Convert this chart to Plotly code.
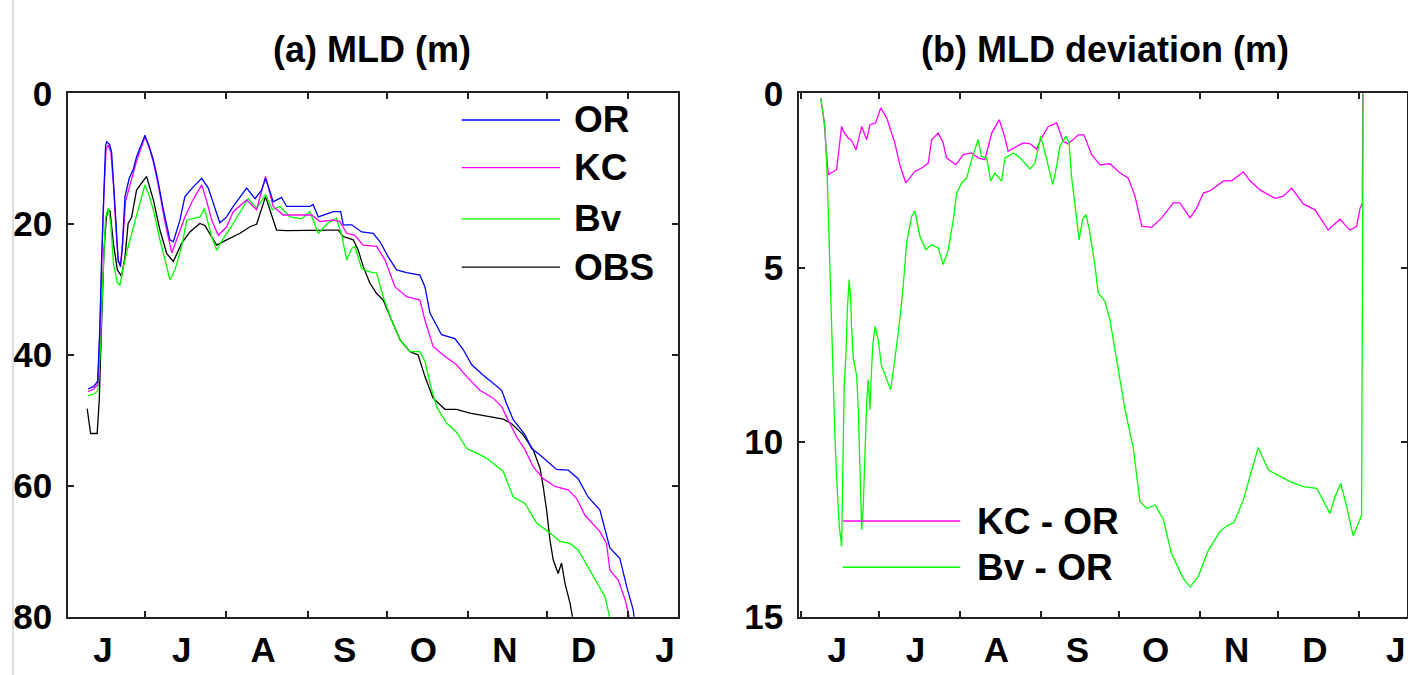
import pandas as pd
import plotly.graph_objects as go

BASE = pd.Timestamp("2006-06-01")

# ---------------- Panel (a): MLD (m); x = days since 1 June ----------------
or_day = [8.3, 10.5, 12.0, 12.8, 13.5, 14.3, 15.0, 15.4, 16.5, 17.3, 18.2, 19.0, 19.8, 20.7, 21.3, 22.4,
          24.0, 25.5, 26.8, 28.5, 30.0, 31.5, 33.2, 35.1, 37.0, 39.5, 40.8, 43.3, 45.2, 48.4, 51.6, 54.1,
          56.0, 58.5, 61.1, 63.6, 68.7, 71.9, 74.4, 75.9, 77.6, 78.8, 82.0, 83.9, 92.8, 94.0, 96.0, 101.7,
          104.5, 105.5, 108.7, 112.5, 116.9, 119.5, 122.6, 125.8, 129.6, 134.7, 136.6, 138.5, 142.9, 148.0,
          151.2, 154.4, 158.8, 162.6, 165.8, 167.7, 170.2, 174.7, 177.2, 180.4, 186.7, 191.1, 194.9, 198.7,
          203.2, 207.0, 210.8, 213.4, 215.9, 216.4]
or_mld = [45.2, 44.8, 44.0, 36.0, 25.0, 14.0, 8.0, 7.4, 7.8, 9.0, 14.0, 20.0, 25.5, 26.5, 24.0, 15.8,
          13.0, 11.7, 9.7, 8.0, 6.4, 8.0, 10.2, 13.7, 17.8, 22.4, 22.7, 19.4, 15.8, 14.3, 13.0, 14.5,
          16.8, 19.8, 18.9, 17.3, 14.5, 16.1, 14.8, 13.0, 15.0, 16.6, 15.9, 17.3, 17.3, 17.0, 18.9, 18.1,
          18.1, 20.1, 20.1, 21.2, 21.4, 22.7, 25.0, 27.0, 27.4, 27.8, 29.6, 33.6, 36.9, 37.5,
          39.2, 41.5, 43.1, 44.3, 45.4, 47.5, 49.9, 52.2, 54.3, 55.3, 57.5, 57.6, 58.9, 61.7,
          63.7, 69.5, 71.1, 75.4, 79.0, 81.0]

kc_day = [8.3, 10.5, 12.0, 12.8, 13.5, 14.3, 15.2, 16.0, 17.0, 18.0, 19.0, 19.8, 20.7, 21.5, 22.6, 24.5,
          26.0, 27.5, 30.0, 31.8, 33.5, 35.5, 37.5, 40.2, 42.0, 45.2, 48.0, 51.6, 53.5, 55.5, 57.9, 61.1,
          63.6, 68.7, 72.5, 75.9, 78.8, 82.6, 93.5, 96.6, 101.7, 104.2, 106.8, 109.9, 113.1, 118.2, 121.4,
          125.2, 129.6, 134.7, 136.6, 139.7, 143.5, 148.6, 152.5, 157.5, 162.6, 165.8, 168.3, 171.5, 174.7,
          177.8, 181.6, 186.1, 191.1, 194.3, 197.5, 203.2, 205.7, 207.0, 210.2, 212.8, 214.9]
kc_mld = [45.6, 45.2, 44.5, 37.0, 27.0, 16.0, 8.5, 7.9, 9.0, 14.0, 21.0, 25.8, 26.0, 23.0, 16.5, 13.5,
          11.5, 9.5, 6.7, 8.5, 11.0, 15.0, 19.5, 24.4, 22.5, 18.9, 16.5, 14.0, 16.5, 19.5, 21.7, 20.4,
          18.1, 16.3, 17.8, 12.7, 17.3, 18.6, 18.6, 19.6, 19.4, 19.6, 21.4, 21.7, 23.2, 23.4, 25.5,
          29.6, 31.1, 31.6, 34.7, 38.7, 40.0, 41.5, 43.3, 45.4, 46.6, 47.9, 50.0, 52.5, 54.5,
          57.1, 58.9, 60.1, 60.6, 61.9, 64.5, 67.0, 68.8, 72.9, 74.4, 77.4, 81.0]

bv_day = [8.3, 10.5, 12.0, 12.9, 14.0, 15.0, 16.0, 17.0, 18.0, 19.5, 20.5, 21.5, 23.6, 26.8, 30.0, 31.5,
          33.2, 35.7, 39.5, 41.4, 44.0, 45.9, 50.9, 52.6, 55.4, 57.3, 59.8, 63.6, 69.3, 72.5, 75.9, 78.5,
          81.4, 85.2, 89.6, 92.8, 96.0, 99.8, 102.9, 104.9, 106.8, 108.7, 109.9, 112.5, 115.6, 118.2,
          120.7, 123.9, 127.1, 130.9, 134.7, 136.6, 138.5, 141.0, 144.8, 148.6, 152.5, 156.3, 160.1,
          162.6, 166.4, 170.2, 174.7, 179.1, 183.5, 188.0, 191.8, 194.9, 199.4, 203.2, 205.1, 206.7, 207.2]
bv_mld = [46.2, 46.0, 45.5, 40.0, 28.0, 19.0, 17.6, 20.0, 26.0, 29.0, 29.3, 27.0, 23.4, 18.9, 14.0, 15.5,
          17.8, 22.4, 28.5, 27.0, 23.4, 19.4, 18.9, 17.6, 21.9, 24.0, 22.2, 19.9, 16.1, 17.6, 15.5, 17.8,
          17.3, 18.9, 19.2, 18.1, 21.4, 19.8, 19.1, 21.7, 25.5, 23.7, 23.4, 26.8, 27.3, 27.5,
          31.1, 34.7, 37.7, 39.5, 39.5, 41.0, 44.3, 47.9, 50.4, 51.8, 54.3, 55.0, 55.8,
          56.6, 57.8, 61.7, 62.7, 65.7, 67.0, 68.5, 68.8, 69.8, 72.9, 75.4, 76.9, 79.7, 81.0]

obs_day = [8.0, 9.3, 11.8, 12.6, 13.5, 14.4, 15.3, 15.9, 16.7, 18.0, 19.5, 21.1, 22.4, 23.6, 24.9, 26.8,
           30.6, 33.2, 35.7, 38.3, 40.8, 44.0, 47.1, 50.9, 52.8, 57.3, 61.1, 66.2, 70.0, 72.5, 75.9, 78.2,
           80.1, 83.9, 92.8, 100.4, 103.6, 105.5, 109.3, 111.2, 113.1, 115.6, 118.2, 120.7, 123.9, 127.1,
           130.9, 134.0, 136.6, 139.7, 144.2, 148.6, 153.7, 160.1, 166.4, 169.6, 174.0, 177.8, 180.4,
           181.6, 182.9, 184.2, 185.4, 187.3, 188.6, 189.9, 191.8, 193.2]
obs_mld = [48.2, 52.0, 52.0, 46.9, 35.0, 24.0, 19.0, 17.8, 18.0, 23.0, 27.0, 28.0, 25.0, 19.9, 19.0, 14.8,
           12.7, 16.3, 20.9, 24.5, 25.7, 22.9, 21.2, 19.9, 20.2, 23.2, 22.4, 21.4, 20.4, 20.0, 15.8, 18.5,
           20.9, 21.0, 20.9, 20.9, 20.9, 21.9, 22.4, 24.0, 26.5, 29.0, 30.6, 31.6, 34.7, 37.7,
           39.5, 40.0, 43.3, 46.6, 48.3, 48.3, 48.9, 49.4, 49.8, 50.5, 52.2, 54.5, 57.3,
           60.1, 63.7, 68.3, 71.3, 73.4, 71.8, 74.9, 77.9, 81.0]

# ---------------- Panel (b): MLD deviation (m) ----------------
kcor_day = [7.7, 9.0, 10.0, 10.6, 12.5, 13.8, 15.7, 16.5, 18.2, 19.5, 21.2, 23.4, 25.3, 26.6, 28.7, 30.7,
            33.0, 36.1, 38.0, 40.3, 43.8, 46.4, 48.9, 50.2, 52.7, 54.6, 55.9, 59.5, 62.3, 65.5, 68.0, 70.6,
            73.2, 76.1, 78.0, 79.5, 84.0, 85.3, 88.0, 90.4, 92.3, 94.9, 98.1, 100.6, 102.5, 106.4, 108.5,
            111.5, 114.7, 118.5, 122.3, 125.5, 128.1, 130.7, 134.5, 138.3, 142.8, 145.3, 149.2, 151.7,
            154.3, 156.8, 161.9, 165.3, 169.6, 172.1, 176.0, 181.7, 184.9, 188.1, 192.6, 197.1, 202.1,
            206.6, 210.4, 213.0, 214.3, 215.2, 215.4]
kcor_dev = [0.13, 0.8, 1.8, 2.33, 2.25, 2.19, 0.95, 1.1, 1.28, 1.35, 1.62, 0.95, 1.33, 0.9, 0.85, 0.42,
            0.71, 1.42, 2.05, 2.57, 2.24, 2.14, 2.0, 1.33, 1.14, 1.42, 1.85, 2.05, 1.76, 1.71, 1.85, 1.9,
            1.14, 0.76, 1.2, 1.66, 1.47, 1.42, 1.45, 1.6, 1.28, 0.95, 0.85, 1.38, 1.45, 1.19, 1.19,
            1.76, 2.05, 2.02, 2.28, 2.43, 2.95, 3.81, 3.84, 3.57, 3.14, 3.14, 3.57, 3.29,
            2.86, 2.8, 2.52, 2.5, 2.25, 2.5, 2.77, 3.01, 2.95, 2.72, 3.17, 3.34, 3.92,
            3.61, 3.92, 3.82, 3.3, 3.15, 0.0]

bvor_day = [7.7, 9.3, 10.2, 11.0, 11.9, 12.5, 13.1, 13.8, 14.8, 15.7, 16.1, 16.7, 17.4, 17.9, 18.6, 19.2,
            19.5, 20.2, 20.8, 21.5, 22.1, 22.7, 23.4, 24.0, 24.6, 25.3, 25.9, 26.6, 26.9, 27.6, 28.5, 29.7,
            31.0, 33.0, 34.5, 36.1, 38.0, 39.3, 40.6, 42.5, 43.8, 45.7, 48.0, 50.2, 52.7, 54.6, 56.6, 58.5,
            59.8, 61.7, 63.6, 65.5, 68.0, 69.3, 71.3, 72.8, 74.4, 77.0, 78.3, 81.5, 84.0, 85.9, 87.9, 89.8,
            92.0, 94.3, 96.6, 98.1, 99.3, 101.6, 102.8, 103.8, 105.1, 106.7, 108.0, 109.3, 110.6, 112.8,
            114.0, 116.6, 118.5, 121.1, 124.3, 127.4, 130.0, 132.6, 135.8, 138.9, 142.1, 146.6, 149.2,
            152.3, 156.2, 160.7, 163.2, 166.0, 169.6, 172.1, 175.3, 179.2, 182.9, 187.5, 192.6, 197.7,
            202.8, 204.7, 206.9, 209.2, 211.7, 214.9, 215.5]
bvor_dev = [0.13, 0.95, 2.38, 4.38, 7.25, 8.3, 9.74, 11.03, 12.41, 12.98, 10.88, 8.4, 7.44, 6.2, 5.34, 5.91,
            6.68, 7.6, 7.82, 8.11, 9.07, 10.5, 12.51, 11.84, 10.31, 8.88, 8.21, 9.07, 8.4, 7.25, 6.68, 7.06,
            7.82, 8.21, 8.49, 7.63, 6.49, 5.53, 4.29, 3.53, 3.38, 4.1, 4.48, 4.34, 4.43, 4.91, 4.48, 3.62,
            2.86, 2.57, 2.43, 1.9, 1.33, 1.81, 1.85, 2.52, 2.28, 2.52, 1.85, 1.71, 1.85, 2.0, 2.17, 2.0,
            1.23, 1.9, 2.62, 2.09, 1.52, 1.23, 1.4, 2.38, 3.14, 4.2, 3.62, 3.48, 3.91, 4.96,
            5.72, 5.96, 6.49, 7.63, 9.07, 10.15, 11.7, 11.9, 11.8, 12.2, 13.2, 13.9, 14.15,
            13.85, 13.1, 12.55, 12.4, 12.3, 11.66, 10.99, 10.15, 10.8, 10.95, 11.13, 11.27, 11.32,
            12.04, 11.56, 11.18, 11.85, 12.69, 12.09, 0.0]

month_letters = ["J", "J", "A", "S", "O", "N", "D", "J"]
mld_ticks = [0, 20, 40, 60, 80]
dev_ticks = [0, 5, 10, 15]


def to_dates(days):
    return [BASE + pd.Timedelta(days=float(d)) for d in days]


month_starts = list(pd.date_range("2006-06-01", "2007-01-01", freq="MS"))
label_dates = [m + pd.Timedelta(days=14) for m in month_starts]   # month labels on the 15th

FONT = "Liberation Sans, Arial, sans-serif"
AX_COL = "#222222"

fig = go.Figure()

series_a = [(obs_day, obs_mld, "#000000", "OBS"), (bv_day, bv_mld, "#00ff00", "Bv"),
            (kc_day, kc_mld, "#ff00ff", "KC"), (or_day, or_mld, "#0000ff", "OR")]
for d, v, c, n in series_a:
    fig.add_trace(go.Scatter(x=to_dates(d), y=v, mode="lines", name=n,
                             line=dict(color=c, width=1.3), xaxis="x", yaxis="y", showlegend=False))

series_b = [(kcor_day, kcor_dev, "#ff00ff", "KC - OR"), (bvor_day, bvor_dev, "#00ff00", "Bv - OR")]
for d, v, c, n in series_b:
    fig.add_trace(go.Scatter(x=to_dates(d), y=v, mode="lines", name=n,
                             line=dict(color=c, width=1.3), xaxis="x2", yaxis="y2", showlegend=False))


def xaxis_cfg(domain, anchor, rng):
    return dict(domain=domain, anchor=anchor, type="date", automargin=False,
                range=[BASE + pd.Timedelta(days=rng[0]), BASE + pd.Timedelta(days=rng[1])],
                tickmode="array", tickvals=label_dates, ticktext=month_letters, ticks="",
                minor=dict(tickmode="array", tickvals=month_starts, ticks="inside", ticklen=6,
                           tickcolor=AX_COL, tickwidth=1.5, showgrid=False),
                showline=True, linecolor=AX_COL, linewidth=1.5, mirror="ticks",
                showgrid=False, zeroline=False, ticklabeloverflow="allow",
                tickfont=dict(family=FONT, size=35, color="#000", weight="bold"),
                ticklabelstandoff=2)


def yaxis_cfg(domain, anchor, rng, vals):
    return dict(domain=domain, anchor=anchor, range=rng, tickmode="array", tickvals=vals,
                automargin=False, ticklabeloverflow="allow",
                ticks="inside", ticklen=6, tickcolor=AX_COL, tickwidth=1.5,
                showline=True, linecolor=AX_COL, linewidth=1.5, mirror="ticks",
                showgrid=False, zeroline=False,
                tickfont=dict(family=FONT, size=35, color="#000", weight="bold"),
                ticklabelstandoff=7)


YDOM = [0.0864, 0.8618]
fig.update_layout(
    width=1408, height=675, margin=dict(l=0, r=0, t=0, b=0, autoexpand=False),
    paper_bgcolor="white", plot_bgcolor="white", showlegend=False,
    xaxis=xaxis_cfg([0.0483, 0.4813], "y", [0.7, 232.8]),
    yaxis=yaxis_cfg(YDOM, "x", [80, 0], mld_ticks),
    xaxis2=xaxis_cfg([0.5675, 0.9991], "y2", [-0.6, 232.2]),
    yaxis2=yaxis_cfg(YDOM, "x2", [15, 0], dev_ticks),
)

# titles
fig.add_annotation(text="(a) MLD (m)", x=0.264, y=0.926, xref="paper", yref="paper",
                   xanchor="center", yanchor="middle", showarrow=False,
                   font=dict(family=FONT, size=36, color="#000", weight="bold"))
fig.add_annotation(text="(b) MLD deviation (m)", x=0.785, y=0.926, xref="paper", yref="paper",
                   xanchor="center", yanchor="middle", showarrow=False,
                   font=dict(family=FONT, size=36, color="#000", weight="bold"))

# manual legends (long line samples as in the original)
leg_a = [("OR", "#0000ff", 0.949), ("KC", "#ff00ff", 0.858), ("Bv", "#00ff00", 0.760), ("OBS", "#000000", 0.668)]
for name, col, yy in leg_a:
    fig.add_shape(type="line", xref="x domain", yref="y domain", x0=0.6457, x1=0.807, y0=yy, y1=yy,
                  line=dict(color=col, width=1.3))
    fig.add_annotation(text=name, xref="x domain", yref="y domain", x=0.826, y=yy,
                       xanchor="left", yanchor="middle", showarrow=False,
                       font=dict(family=FONT, size=37, color="#000", weight="bold"))
leg_b = [("KC - OR", "#ff00ff", 0.1828), ("Bv - OR", "#00ff00", 0.0944)]
for name, col, yy in leg_b:
    fig.add_shape(type="line", xref="x2 domain", yref="y2 domain", x0=0.0719, x1=0.2653, y0=yy, y1=yy,
                  line=dict(color=col, width=1.3))
    fig.add_annotation(text=name, xref="x2 domain", yref="y2 domain", x=0.2896, y=yy,
                       xanchor="left", yanchor="middle", showarrow=False,
                       font=dict(family=FONT, size=37, color="#000", weight="bold"))

# thin grey frame line at the far left of the original image
fig.add_shape(type="line", xref="paper", yref="paper", x0=13 / 1408, x1=13 / 1408, y0=0, y1=1,
              line=dict(color="#bbbbbb", width=1))

fig.write_html("out.html")
